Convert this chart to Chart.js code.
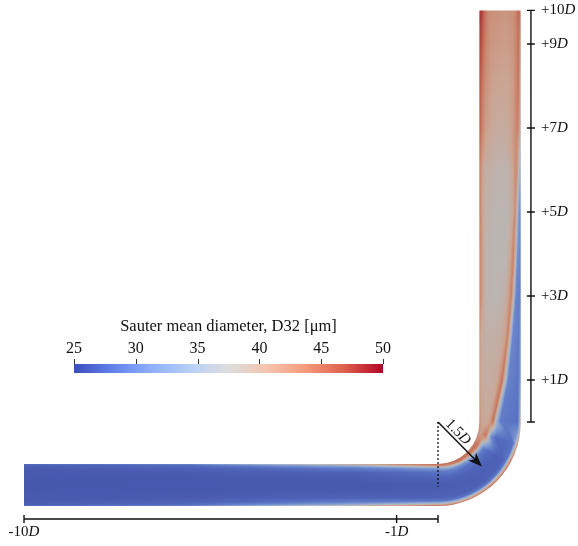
<!DOCTYPE html>
<html>
<head>
<meta charset="utf-8">
<script src="https://cdn.jsdelivr.net/npm/chart.js@4.4.1/dist/chart.umd.min.js"></script>
<style>
  html, body { margin: 0; padding: 0; background: #fff; }
</style>
</head>
<body>
<canvas id="myChart" width="578" height="546"></canvas>
<script>
// pipe geometry in pipe diameters D, bend centre at (0, 0)
const inletX = -10;
const outletY = 9.8;
const bendInner = 1;
const bendOuter = 2;
const bendCentreline = 1.5;
const markerDepth = -1.55;

// axis ticks
const bottomTicks = [-10, -1, 0];
const bottomLabels = ["-10", "-1", ""];
const rightTicks = [0, 1, 3, 5, 7, 9, 9.8];
const rightLabels = ["", "+1", "+3", "+5", "+7", "+9", "+10"];

// colour bar
const cbTicks = [25, 30, 35, 40, 45, 50];
const cbTitle = "Sauter mean diameter, D32 [\u03bcm]";

// D32 [um] read across the pipe (0 = inner wall, 1 = outer wall) at stations
// along the centreline: s = 0 inlet, s = 10 bend start, s = 12.36 bend end
const stationS = [0, 4, 5.5, 8, 10, 10.79, 11.57, 11.96, 12.36, 13.36, 14.36, 15.36, 16.36, 17.36, 18.36, 19.36, 20.36, 22.16];
const stationPos = [
  [0, .04, .1, .2, .35, .5, .65, .8, .9, .96, 1],
  [0, .04, .1, .2, .35, .5, .65, .8, .9, .96, 1],
  [0, .04, .1, .2, .35, .5, .65, .8, .9, .96, 1],
  [0, .04, .1, .2, .35, .5, .65, .8, .9, .96, 1],
  [0, .05, .1, .2, .35, .5, .65, .8, .88, .94, 1],
  [0, .06, .1, .16, .25, .4, .6, .8, .88, .93, 1],
  [0, .05, .12, .18, .26, .4, .6, .8, .88, .93, 1],
  [0, .05, .1, .15, .2, .26, .33, .45, .88, .93, 1],
  [0, .04, .1, .18, .24, .28, .33, .4, .5, .93, 1],
  [0, .04, .15, .3, .42, .49, .55, .62, .7, .93, 1],
  [0, .04, .15, .35, .52, .62, .68, .74, .8, .95, 1],
  [0, .06, .15, .4, .6, .7, .77, .83, .88, .96, 1],
  [0, .06, .15, .4, .65, .75, .82, .87, .92, .97, 1],
  [0, .05, .12, .4, .7, .8, .86, .9, .94, .97, 1],
  [0, .05, .12, .4, .7, .8, .87, .92, .95, .98, 1],
  [0, .06, .15, .3, .5, .7, .82, .9, .95, .98, 1],
  [0, .06, .15, .3, .5, .7, .82, .9, .95, .98, 1],
  [0, .06, .12, .22, .4, .6, .8, .88, .93, .97, 1]
];
const stationVal = [
  [27.5, 26.8, 26.5, 26.3, 26.2, 26.2, 26.2, 26.3, 26.5, 26.8, 27.5],
  [30, 27.5, 27, 26.5, 26.3, 26.2, 26.3, 26.5, 27, 27.5, 30],
  [35, 29.5, 27.5, 26.8, 26.4, 26.3, 26.4, 26.8, 27.5, 29.5, 34],
  [42, 34, 29, 27, 26.5, 26.3, 26.5, 27, 29, 33, 41],
  [46, 42, 32, 28, 27, 26.5, 26.7, 27, 28.5, 36, 46],
  [45, 45, 39, 31, 28, 27, 26.7, 27, 28.5, 37, 46],
  [43, 45, 44, 35, 29, 27.5, 27, 27, 28.5, 37, 46],
  [43, 41, 42, 44, 45, 38, 30, 27.5, 28, 34, 44],
  [44, 41, 40, 40, 41, 43, 45, 36, 29, 28, 38],
  [43, 40, 39.5, 39.5, 40, 42.5, 45, 38, 29.5, 28.5, 32],
  [43, 40, 39, 39, 39.5, 41, 44, 38, 30, 29, 32],
  [44, 42, 38.5, 38, 38.5, 41, 44, 38, 30, 29, 31],
  [44, 42, 38.5, 38, 38, 40.5, 44, 39, 31, 30, 31],
  [45, 42, 39, 38, 38, 40, 43, 40, 33, 31, 32],
  [45, 42, 39.5, 38.5, 38.5, 40, 43, 42, 37, 35, 35],
  [47, 44, 41.5, 40, 39.5, 40, 41.5, 44, 43, 40, 39],
  [47.5, 45, 42.5, 41, 40.5, 40.5, 41.5, 44, 44.5, 41, 40],
  [48.5, 48, 45.5, 43, 42.5, 42, 42.5, 43.5, 45.5, 45, 42]
];

// cool to warm colour map
const cmap = [[59, 76, 192], [98, 130, 234], [141, 176, 254], [184, 208, 249], [221, 221, 221],
  [245, 196, 173], [244, 154, 123], [222, 96, 77], [180, 4, 38]];
const vMin = cbTicks[0], vMax = cbTicks[cbTicks.length - 1];

// pipe surface is lit, so colours come out a little darker and greyer
function colourFor(v) {
  let u = (v - vMin) / (vMax - vMin);
  u = Math.max(0, Math.min(1, u)) * (cmap.length - 1);
  const i = Math.min(Math.floor(u), cmap.length - 2);
  const f = u - i;
  return cmap[i].map((c, k) => (c + (cmap[i + 1][k] - c) * f) * 0.78 + 12);
}

function profileAt(s, t) {
  let i = 0;
  while (i < stationS.length - 2 && s > stationS[i + 1]) i++;
  let w = (s - stationS[i]) / (stationS[i + 1] - stationS[i]);
  w = Math.max(0, Math.min(1, w));
  const pa = stationPos[i], pb = stationPos[i + 1];
  const va = stationVal[i], vb = stationVal[i + 1];
  let prevP = 0, prevV = va[0] + (vb[0] - va[0]) * w;
  for (let k = 1; k < pa.length; k++) {
    const p = pa[k] + (pb[k] - pa[k]) * w;
    const v = va[k] + (vb[k] - va[k]) * w;
    if (t <= p) return prevV + (v - prevV) * (t - prevP) / Math.max(p - prevP, 1e-6);
    prevP = p;
    prevV = v;
  }
  return prevV;
}

const sBendStart = -inletX;
const sBendEnd = sBendStart + Math.PI / 2 * bendCentreline;
const width = bendOuter - bendInner;

function fieldAt(x, y) {
  let s, t;
  if (x < 0) {
    s = x - inletX;
    t = (-y - bendInner) / width;
  } else if (y > 0) {
    s = sBendEnd + y;
    t = (x - bendInner) / width;
  } else {
    const r = Math.hypot(x, y);
    s = sBendStart + Math.atan2(x, -y) * bendCentreline;
    t = (r - bendInner) / width;
  }
  return profileAt(s, Math.max(0, Math.min(1, t)));
}

function pipePath(chart) {
  const sx = chart.scales.x, sy = chart.scales.y;
  const px = (v) => sx.getPixelForValue(v);
  const py = (v) => sy.getPixelForValue(v);
  const cx = px(0), cy = py(0);
  const p = new Path2D();
  p.moveTo(px(inletX), py(-bendInner));
  p.lineTo(cx, py(-bendInner));
  p.ellipse(cx, cy, px(bendInner) - cx, py(-bendInner) - cy, 0, Math.PI / 2, 0, true);
  p.lineTo(px(bendInner), py(outletY));
  p.lineTo(px(bendOuter), py(outletY));
  p.lineTo(px(bendOuter), cy);
  p.ellipse(cx, cy, px(bendOuter) - cx, py(-bendOuter) - cy, 0, 0, Math.PI / 2, false);
  p.lineTo(px(inletX), py(-bendOuter));
  p.closePath();
  return p;
}

const fieldPlugin = {
  id: "field",
  beforeDatasetsDraw(chart) {
    const { ctx, scales: { x: sx, y: sy } } = chart;
    const W = chart.width, H = chart.height;
    const off = document.createElement("canvas");
    off.width = W;
    off.height = H;
    const octx = off.getContext("2d");
    const img = octx.createImageData(W, H);
    const xs = [], ys = [];
    for (let i = 0; i < W; i++) xs.push(sx.getValueForPixel(i + 0.5));
    for (let j = 0; j < H; j++) ys.push(sy.getValueForPixel(j + 0.5));
    for (let j = 0; j < H; j++) {
      for (let i = 0; i < W; i++) {
        const x = xs[i], y = ys[j];
        if (x < inletX - 0.2 || y > outletY + 0.2 || x > bendOuter + 0.2 || y < -bendOuter - 0.2) continue;
        const c = colourFor(fieldAt(x, y));
        const o = (j * W + i) * 4;
        img.data[o] = c[0];
        img.data[o + 1] = c[1];
        img.data[o + 2] = c[2];
        img.data[o + 3] = 255;
      }
    }
    octx.putImageData(img, 0, 0);
    ctx.save();
    ctx.fillStyle = ctx.createPattern(off, "no-repeat");
    ctx.fill(pipePath(chart));
    ctx.restore();
  }
};

function mixedLabel(ctx, num, x, y, align) {
  const normal = "15px 'Liberation Serif'";
  const italic = "italic 15px 'Liberation Serif'";
  ctx.font = normal;
  const w1 = ctx.measureText(num).width;
  ctx.font = italic;
  const w2 = ctx.measureText("D").width;
  let x0 = x;
  if (align === "center") x0 = x - (w1 + w2) / 2;
  ctx.textAlign = "left";
  ctx.textBaseline = "middle";
  ctx.font = normal;
  ctx.fillText(num, x0, y);
  ctx.font = italic;
  ctx.fillText("D", x0 + w1, y);
}

const annotPlugin = {
  id: "annot",
  afterDatasetsDraw(chart, args, opts) {
    const { ctx, scales: { x: sx, y: sy } } = chart;
    const px = (v) => sx.getPixelForValue(v);
    const py = (v) => sy.getPixelForValue(v);
    ctx.save();
    ctx.strokeStyle = "#111";
    ctx.fillStyle = "#111";
    ctx.lineWidth = 1.4;

    // arrow head and 1.5D label
    const a = Math.PI / 4;
    const tipX = px(bendCentreline * Math.cos(a)), tipY = py(-bendCentreline * Math.sin(a));
    const ang = Math.atan2(tipY - py(0), tipX - px(0));
    ctx.beginPath();
    ctx.moveTo(tipX, tipY);
    ctx.lineTo(tipX - 14 * Math.cos(ang) + 5.5 * Math.sin(ang), tipY - 14 * Math.sin(ang) - 5.5 * Math.cos(ang));
    ctx.lineTo(tipX - 10 * Math.cos(ang), tipY - 10 * Math.sin(ang));
    ctx.lineTo(tipX - 14 * Math.cos(ang) - 5.5 * Math.sin(ang), tipY - 14 * Math.sin(ang) + 5.5 * Math.cos(ang));
    ctx.closePath();
    ctx.fill();
    const lx = px(0.51 * Math.cos(a) + 0.17 * Math.cos(a)), ly = py(-0.51 * Math.sin(a) + 0.17 * Math.sin(a));
    ctx.save();
    ctx.translate(lx, ly);
    ctx.rotate(ang);
    mixedLabel(ctx, "1.5", 0, 0, "center");
    ctx.restore();

    // right axis
    const ax = px(opts.rightAxisX);
    ctx.beginPath();
    ctx.moveTo(ax, py(rightTicks[0]));
    ctx.lineTo(ax, py(rightTicks[rightTicks.length - 1]));
    rightTicks.forEach((v) => {
      ctx.moveTo(ax - 4, py(v));
      ctx.lineTo(ax + 4, py(v));
    });
    ctx.stroke();
    rightTicks.forEach((v, i) => {
      if (rightLabels[i]) mixedLabel(ctx, rightLabels[i], ax + 10, py(v), "left");
    });

    // bottom axis
    const ay = py(opts.bottomAxisY);
    ctx.beginPath();
    ctx.moveTo(px(bottomTicks[0]), ay);
    ctx.lineTo(px(bottomTicks[bottomTicks.length - 1]), ay);
    bottomTicks.forEach((v) => {
      ctx.moveTo(px(v), ay - 4);
      ctx.lineTo(px(v), ay + 4);
    });
    ctx.stroke();
    bottomTicks.forEach((v, i) => {
      if (bottomLabels[i]) mixedLabel(ctx, bottomLabels[i], px(v), ay + 13, "center");
    });

    // colour bar
    const cb = opts.colorbar;
    const grad = ctx.createLinearGradient(cb.left, 0, cb.right, 0);
    cmap.forEach((c, i) => grad.addColorStop(i / (cmap.length - 1), `rgb(${c.join(",")})`));
    ctx.fillStyle = grad;
    ctx.fillRect(cb.left, cb.top, cb.right - cb.left, cb.height);
    ctx.fillStyle = "#111";
    ctx.strokeStyle = "#333";
    ctx.lineWidth = 1;
    ctx.font = "16px 'Liberation Serif'";
    ctx.textAlign = "center";
    ctx.textBaseline = "middle";
    cbTicks.forEach((v) => {
      const x = cb.left + (v - vMin) / (vMax - vMin) * (cb.right - cb.left);
      ctx.beginPath();
      ctx.moveTo(Math.round(x) + 0.5, cb.top - 5);
      ctx.lineTo(Math.round(x) + 0.5, cb.top);
      ctx.stroke();
      ctx.fillText(String(v), x, cb.top - 15);
    });
    ctx.font = "16.5px 'Liberation Serif'";
    ctx.fillText(cbTitle, (cb.left + cb.right) / 2, cb.top - 37);
    ctx.restore();
  }
};

const ctx = document.getElementById("myChart").getContext("2d");
const myChart = new Chart(ctx, {
  type: "scatter",
  data: {
    datasets: [
      {
        label: "bend start",
        data: [{ x: 0, y: 0 }, { x: 0, y: markerDepth }],
        showLine: true,
        borderColor: "#111",
        borderWidth: 1.3,
        borderDash: [2, 2],
        pointRadius: 0,
      },
      {
        label: "bend radius",
        data: [{ x: 0, y: 0 }, { x: bendCentreline * Math.SQRT1_2 * 0.92, y: -bendCentreline * Math.SQRT1_2 * 0.92 }],
        showLine: true,
        borderColor: "#111",
        borderWidth: 1.5,
        pointRadius: 0,
      },
    ],
  },
  options: {
    responsive: false,
    animation: false,
    layout: { padding: 0 },
    plugins: {
      legend: { display: false },
      tooltip: { enabled: false },
      annot: {
        rightAxisX: 2.245,
        bottomAxisY: -2.31,
        colorbar: { left: 74, right: 383, top: 364, height: 9 },
      },
    },
    scales: {
      x: { type: "linear", min: -10.58, max: 3.382, display: false },
      y: { type: "linear", min: -2.952, max: 10.048, display: false },
    },
  },
  plugins: [fieldPlugin, annotPlugin],
});
</script>
</body>
</html>
